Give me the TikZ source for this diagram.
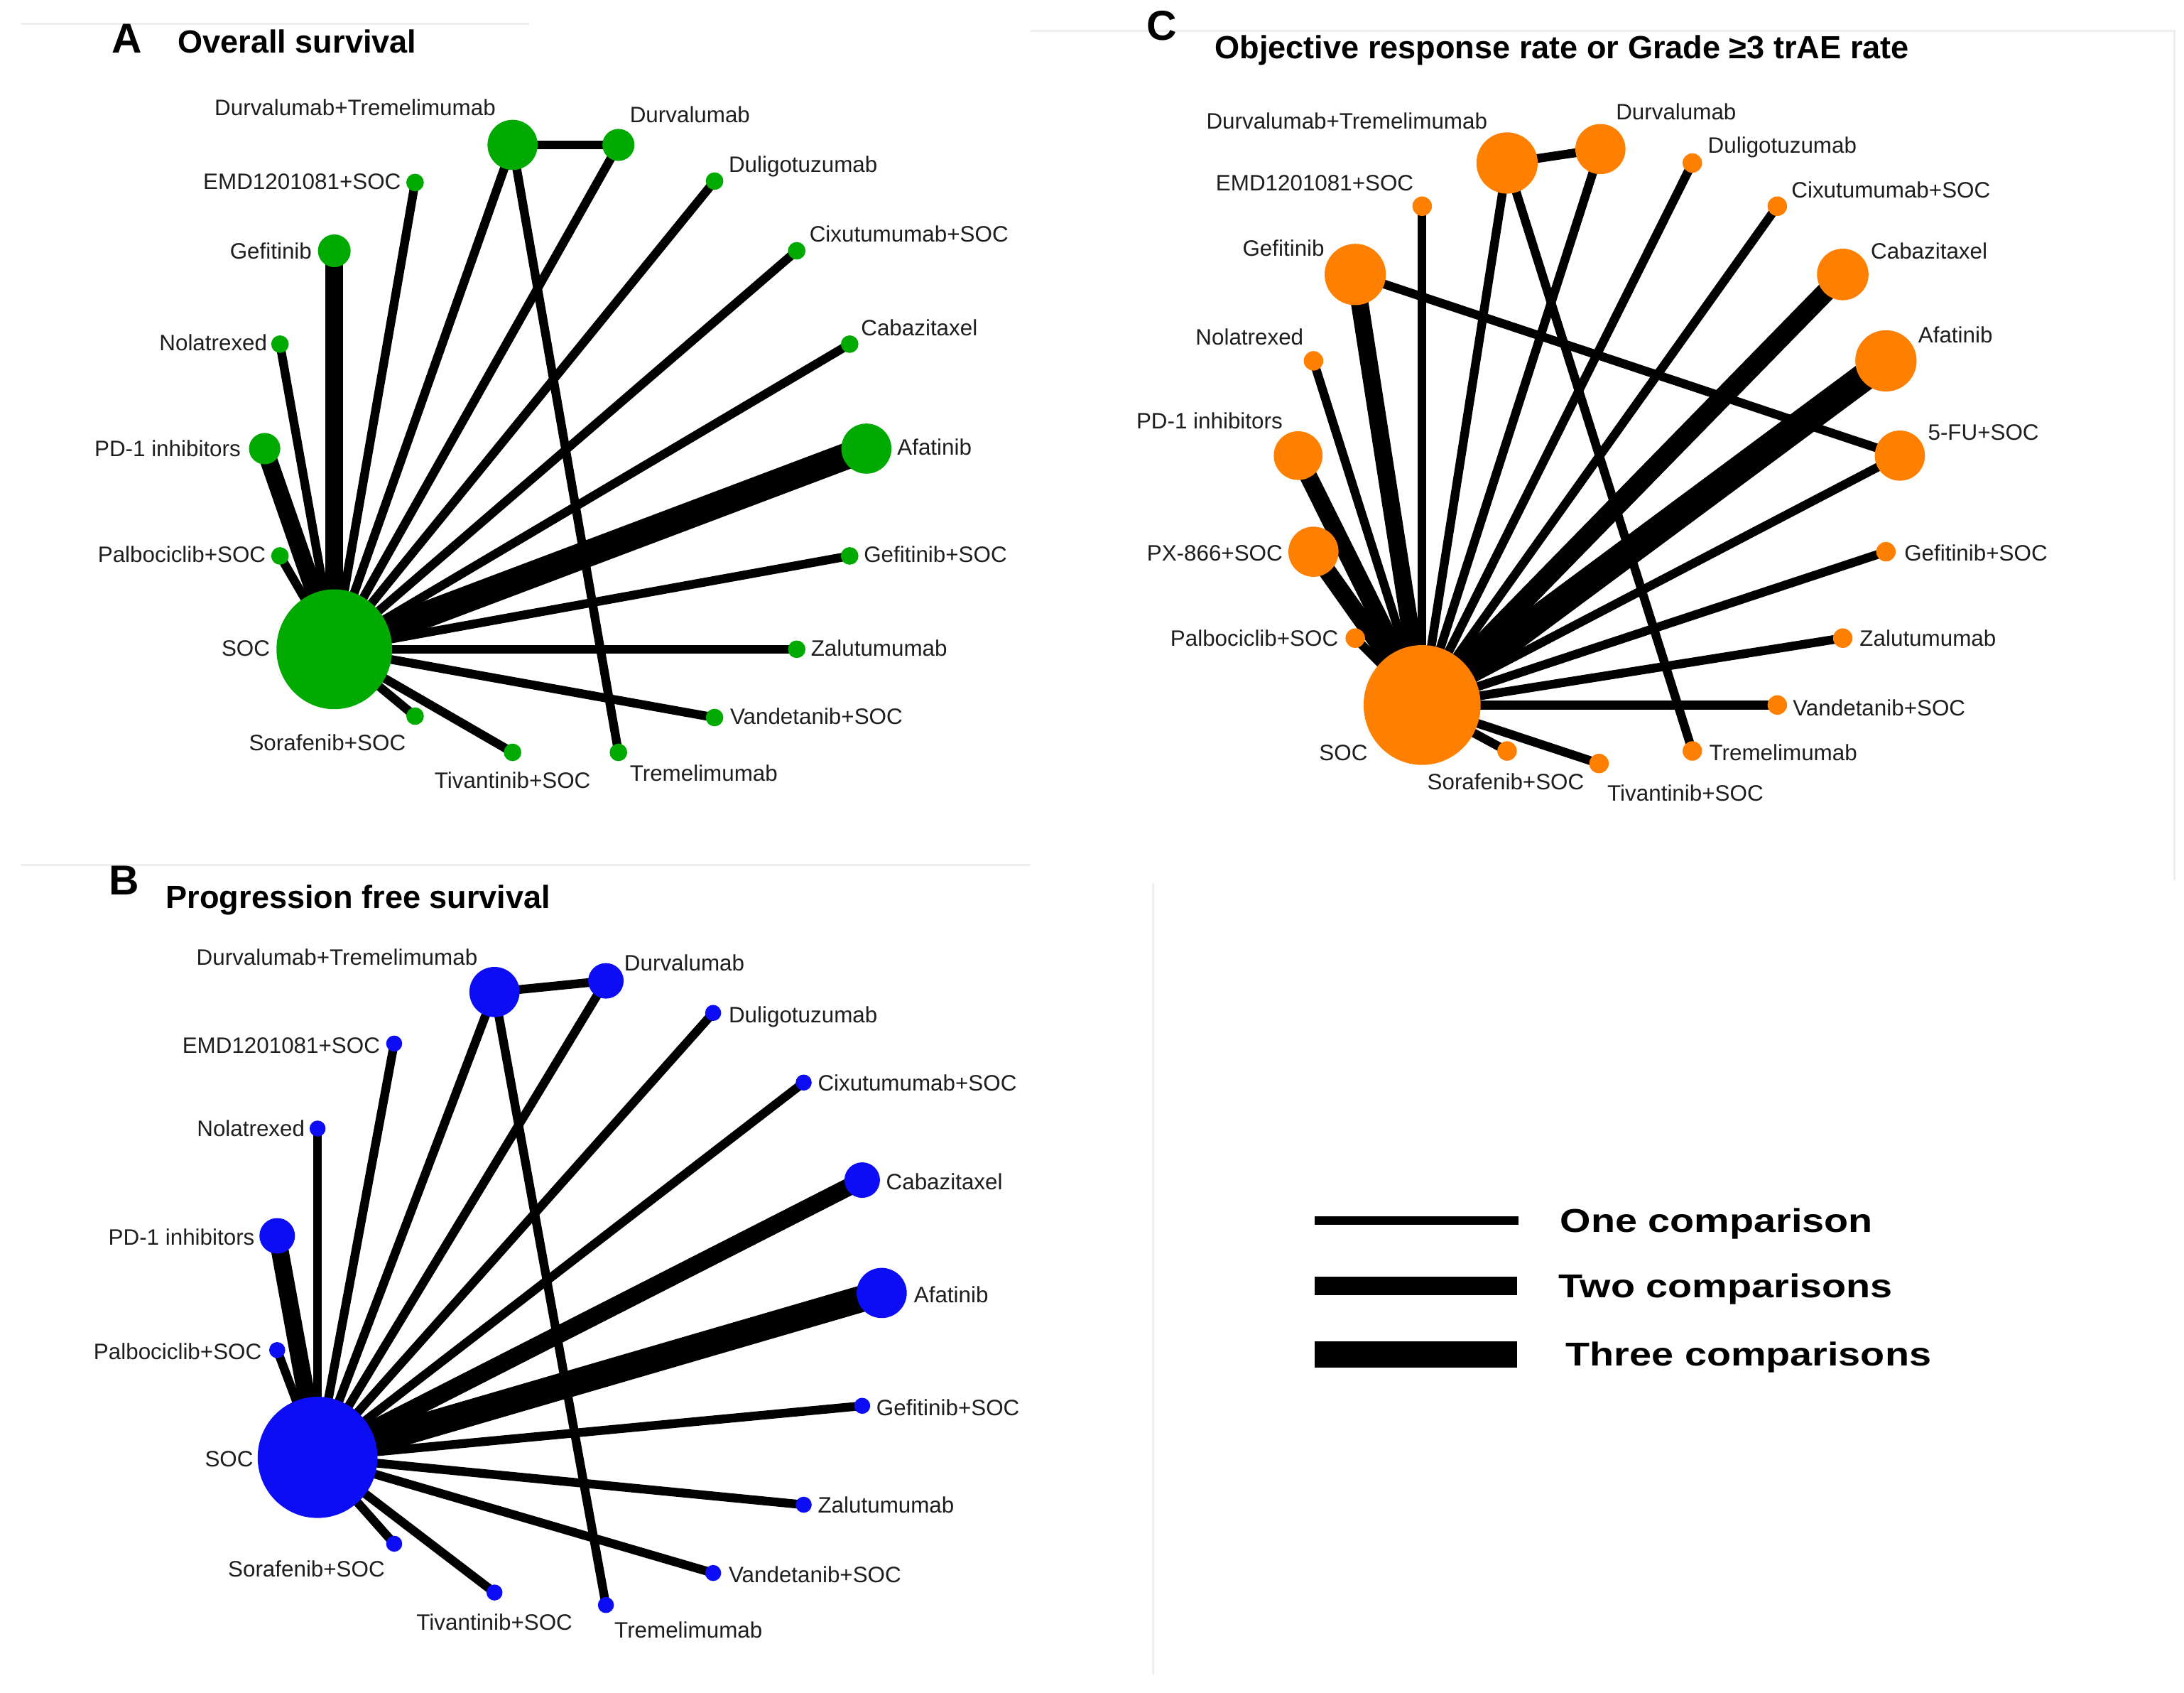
\documentclass[tikz,border=0pt]{standalone}
\usepackage{fontspec}
\setmainfont{Liberation Sans}
\newfontfamily\legfont[FakeStretch=1.2]{Liberation Sans}
\usetikzlibrary{shapes.geometric,backgrounds}
\definecolor{grn}{RGB}{0,170,0}
\definecolor{blu}{RGB}{12,12,245}
\definecolor{org}{RGB}{255,128,0}
\definecolor{txt}{RGB}{30,30,30}
\definecolor{frame}{RGB}{236,238,240}
\newcommand\labfont{\fontsize{16}{19}\selectfont}
\newcommand\titfont{\fontsize{23}{27}\selectfont\bfseries}
\newcommand\letfont{\fontsize{30}{34}\selectfont\bfseries}
\newcommand\legtxt{\legfont\fontsize{23.7}{28}\selectfont\bfseries}
\tikzset{
  lab/.style={font=\labfont, text=txt, inner sep=0pt},
  labr/.style={lab, anchor=base west, yshift=-5.8pt},
  labl/.style={lab, anchor=base east, yshift=-5.8pt},
  labc/.style={lab, anchor=base, yshift=-5.8pt},
  tit/.style={font=\titfont, text=black, inner sep=0pt, anchor=base west},
  letr/.style={font=\letfont, text=black, inner sep=0pt, anchor=base west},
  legt/.style={font=\legtxt, text=black, inner sep=0pt, anchor=base west, yshift=-8.5pt},
  dot/.style={circle, inner sep=0pt, draw=none, minimum size=#1},
  socn/.style={ellipse, inner sep=0pt, draw=none},
  wone/.style={line width=6.3pt, draw=black},
  wtwo/.style={line width=12.6pt, draw=black},
  wthree/.style={line width=19pt, draw=black},
  panelline/.style={draw=frame, line width=1.5pt}
}
\begin{document}
\begin{tikzpicture}[x=1pt,y=-1pt]
\useasboundingbox (0,0) rectangle (1568,1215.1);
\begin{scope}[on background layer]
\fill[white] (0,0) rectangle (1568,1215.1);
\end{scope}

% faint panel frames
\coordinate (fa1) at (15,17);   \coordinate (fa2) at (380,17);
\coordinate (fc1) at (740,22);  \coordinate (fc2) at (1561,22);
\coordinate (fc3) at (1561,632);
\coordinate (fb1) at (15,621);  \coordinate (fb2) at (740,621);
\coordinate (fl1) at (828,634); \coordinate (fl2) at (828,1202);
\draw[panelline] (fa1) -- (fa2);
\draw[panelline] (fc1) -- (fc2) -- (fc3);
\draw[panelline] (fb1) -- (fb2);
\draw[panelline] (fl1) -- (fl2);

% ================= Panel A =================
\node[letr] (aLet) at (80,38) {A};
\node[tit] (aTit) at (127.5,38.2) {Overall survival};
\begin{scope}[every node/.append style={fill=grn}]
\node[dot=36pt] (aDT) at (368,104) {};
\node[dot=23pt] (aDur) at (444,104) {};
\node[dot=12.6pt] (aEMD) at (298,131) {};
\node[dot=12.6pt] (aDul) at (513,130) {};
\node[dot=23.5pt] (aGef) at (240,180) {};
\node[dot=12.6pt] (aCix) at (572,180) {};
\node[dot=12.6pt] (aNol) at (201,247) {};
\node[dot=12.6pt] (aCab) at (610,247) {};
\node[dot=22.5pt] (aPD) at (190,322) {};
\node[dot=36pt] (aAfa) at (622,322) {};
\node[dot=12.6pt] (aPal) at (201,399) {};
\node[dot=12.6pt] (aGS) at (610,399) {};
\node[socn, minimum width=83pt, minimum height=86pt] (aSOC) at (240,466) {};
\node[dot=12.6pt] (aZal) at (572,466) {};
\node[dot=12.6pt] (aVan) at (513,515) {};
\node[dot=12.6pt] (aSor) at (298,514) {};
\node[dot=12.6pt] (aTiv) at (368,540) {};
\node[dot=12.6pt] (aTre) at (444,540) {};
\end{scope}
\begin{scope}[on background layer]
\foreach \n in {DT,Dur,EMD,Dul,Cix,Nol,Cab,Pal,GS,Zal,Van,Sor,Tiv}
  \draw[wone] (aSOC.center) -- (a\n.center);
\draw[wtwo] (aSOC.center) -- (aGef.center);
\draw[wtwo] (aSOC.center) -- (aPD.center);
\draw[wthree] (aSOC.center) -- (aAfa.center);
\draw[wone] (aDT.center) -- (aDur.center);
\draw[wone] (aDT.center) -- (aTre.center);
\end{scope}
\node[labl] (aDTl) at (356,77) {Durvalumab+Tremelimumab};
\node[labr] (aDurl) at (452,82) {Durvalumab};
\node[labl] (aEMDl) at (288,130) {EMD1201081+SOC};
\node[labr] (aDull) at (523,118) {Duligotuzumab};
\node[labl] (aGefl) at (224,180) {Gefitinib};
\node[labr] (aCixl) at (581,168) {Cixutumumab+SOC};
\node[labl] (aNoll) at (192,246) {Nolatrexed};
\node[labr] (aCabl) at (618,235) {Cabazitaxel};
\node[labl] (aPDl) at (173,322) {PD-1 inhibitors};
\node[labr] (aAfal) at (644,321) {Afatinib};
\node[labl] (aPall) at (191,398) {Palbociclib+SOC};
\node[labr] (aGSl) at (620,398) {Gefitinib+SOC};
\node[labl] (aSOCl) at (194,465) {SOC};
\node[labr] (aZall) at (582,465) {Zalutumumab};
\node[labr] (aVanl) at (524,514) {Vandetanib+SOC};
\node[labc] (aSorl) at (235,533) {Sorafenib+SOC};
\node[labc] (aTivl) at (368,560) {Tivantinib+SOC};
\node[labr] (aTrel) at (452,555) {Tremelimumab};

% ================= Panel B =================
\node[letr] (bLet) at (78,642) {B};
\node[tit] (bTit) at (119,652) {Progression free survival};
\begin{scope}[every node/.append style={fill=blu}]
\node[dot=36pt] (bDT) at (355,712) {};
\node[dot=25.5pt] (bDur) at (435,704) {};
\node[dot=11.5pt] (bDul) at (512,727) {};
\node[dot=11.5pt] (bEMD) at (283,749) {};
\node[dot=11.5pt] (bCix) at (577,777) {};
\node[dot=11.5pt] (bNol) at (228,810) {};
\node[dot=25.5pt] (bCab) at (619,847) {};
\node[dot=25.5pt] (bPD) at (199,887) {};
\node[dot=36pt] (bAfa) at (633,928) {};
\node[dot=11.5pt] (bPal) at (199,969) {};
\node[dot=11.5pt] (bGS) at (619,1009) {};
\node[socn, minimum width=86pt, minimum height=87pt] (bSOC) at (228,1046) {};
\node[dot=11.5pt] (bZal) at (577,1080) {};
\node[dot=11.5pt] (bVan) at (512,1129) {};
\node[dot=11.5pt] (bSor) at (283,1108) {};
\node[dot=11.5pt] (bTiv) at (355,1143) {};
\node[dot=11.5pt] (bTre) at (435,1152) {};
\end{scope}
\begin{scope}[on background layer]
\foreach \n in {DT,Dur,EMD,Dul,Cix,Nol,Pal,GS,Zal,Van,Sor,Tiv}
  \draw[wone] (bSOC.center) -- (b\n.center);
\draw[wtwo] (bSOC.center) -- (bCab.center);
\draw[wtwo] (bSOC.center) -- (bPD.center);
\draw[wthree] (bSOC.center) -- (bAfa.center);
\draw[wone] (bDT.center) -- (bDur.center);
\draw[wone] (bDT.center) -- (bTre.center);
\end{scope}
\node[labl] (bDTl) at (343,687) {Durvalumab+Tremelimumab};
\node[labr] (bDurl) at (448,691) {Durvalumab};
\node[labr] (bDull) at (523,728) {Duligotuzumab};
\node[labl] (bEMDl) at (273,750) {EMD1201081+SOC};
\node[labr] (bCixl) at (587,777) {Cixutumumab+SOC};
\node[labl] (bNoll) at (219,810) {Nolatrexed};
\node[labr] (bCabl) at (636,848) {Cabazitaxel};
\node[labl] (bPDl) at (183,888) {PD-1 inhibitors};
\node[labr] (bAfal) at (656,929) {Afatinib};
\node[labl] (bPall) at (188,970) {Palbociclib+SOC};
\node[labr] (bGSl) at (629,1010) {Gefitinib+SOC};
\node[labl] (bSOCl) at (182,1047) {SOC};
\node[labr] (bZall) at (587,1080) {Zalutumumab};
\node[labr] (bVanl) at (523,1130) {Vandetanib+SOC};
\node[labc] (bSorl) at (220,1126) {Sorafenib+SOC};
\node[labc] (bTivl) at (355,1164) {Tivantinib+SOC};
\node[labr] (bTrel) at (441,1170) {Tremelimumab};

% ================= Panel C =================
\node[letr] (cLet) at (823,29) {C};
\node[tit] (cTit) at (872,42) {Objective response rate or Grade ≥3 trAE rate};
\begin{scope}[every node/.append style={fill=org}]
\node[dot=44pt] (cDT) at (1082,117) {};
\node[dot=36pt] (cDur) at (1149,107) {};
\node[dot=14pt] (cDul) at (1215,117) {};
\node[dot=14pt] (cEMD) at (1021,148) {};
\node[dot=14pt] (cCix) at (1276,148) {};
\node[dot=44pt] (cGef) at (973,197) {};
\node[dot=37pt] (cCab) at (1323,197) {};
\node[dot=14pt] (cNol) at (943,259) {};
\node[dot=44pt] (cAfa) at (1354,259) {};
\node[dot=35pt] (cPD) at (932,327) {};
\node[dot=36pt] (cFU) at (1364,327) {};
\node[dot=36pt] (cPX) at (943,396) {};
\node[dot=14pt] (cGS) at (1354,396) {};
\node[dot=14pt] (cPal) at (973,458) {};
\node[dot=14pt] (cZal) at (1323,458) {};
\node[socn, minimum width=84pt, minimum height=86pt] (cSOC) at (1021,506) {};
\node[dot=14pt] (cVan) at (1276,506) {};
\node[dot=14pt] (cSor) at (1082,539) {};
\node[dot=14pt] (cTre) at (1215,539) {};
\node[dot=14pt] (cTiv) at (1148,548) {};
\end{scope}
\begin{scope}[on background layer]
\foreach \n in {DT,Dur,Dul,EMD,Cix,Nol,FU,GS,Pal,Zal,Van,Sor,Tiv}
  \draw[wone] (cSOC.center) -- (c\n.center);
\draw[wtwo] (cSOC.center) -- (cGef.center);
\draw[wtwo] (cSOC.center) -- (cPD.center);
\draw[wtwo] (cSOC.center) -- (cPX.center);
\draw[wtwo, line width=14pt] (cSOC.center) -- (cCab.center);
\draw[wthree, line width=20pt] (cSOC.center) -- (cAfa.center);
\draw[wone] (cDT.center) -- (cDur.center);
\draw[wone] (cDT.center) -- (cTre.center);
\draw[wone] (cGef.center) -- (cFU.center);
\end{scope}
\node[labl] (cDTl) at (1068,87) {Durvalumab+Tremelimumab};
\node[labr] (cDurl) at (1160,80) {Durvalumab};
\node[labr] (cDull) at (1226,104) {Duligotuzumab};
\node[labl] (cEMDl) at (1015,131) {EMD1201081+SOC};
\node[labr] (cCixl) at (1286,136) {Cixutumumab+SOC};
\node[labl] (cGefl) at (951,178) {Gefitinib};
\node[labr] (cCabl) at (1343,180) {Cabazitaxel};
\node[labl] (cNoll) at (936,242) {Nolatrexed};
\node[labr] (cAfal) at (1377,240) {Afatinib};
\node[labl] (cPDl) at (921,302) {PD-1 inhibitors};
\node[labr] (cFUl) at (1384,310) {5-FU+SOC};
\node[labl] (cPXl) at (921,397) {PX-866+SOC};
\node[labr] (cGSl) at (1367,397) {Gefitinib+SOC};
\node[labl] (cPall) at (961,458) {Palbociclib+SOC};
\node[labr] (cZall) at (1335,458) {Zalutumumab};
\node[labr] (cVanl) at (1287,508) {Vandetanib+SOC};
\node[labl] (cSOCl) at (982,540) {SOC};
\node[labr] (cTrel) at (1227,540) {Tremelimumab};
\node[labc] (cSorl) at (1081,561) {Sorafenib+SOC};
\node[labc] (cTivl) at (1210,569) {Tivantinib+SOC};

% ================= Legend =================
\coordinate (l1a) at (944,876);  \coordinate (l1b) at (1090,876);
\coordinate (l2a) at (944,923);  \coordinate (l2b) at (1089,923);
\coordinate (l3a) at (944,972);  \coordinate (l3b) at (1089,972);
\draw[line width=6pt] (l1a) -- (l1b);
\draw[line width=13pt] (l2a) -- (l2b);
\draw[line width=19pt] (l3a) -- (l3b);
\node[legt] (lt1) at (1120,876) {One comparison};
\node[legt] (lt2) at (1119,923) {Two comparisons};
\node[legt] (lt3) at (1124,972) {Three comparisons};
\end{tikzpicture}
\end{document}
